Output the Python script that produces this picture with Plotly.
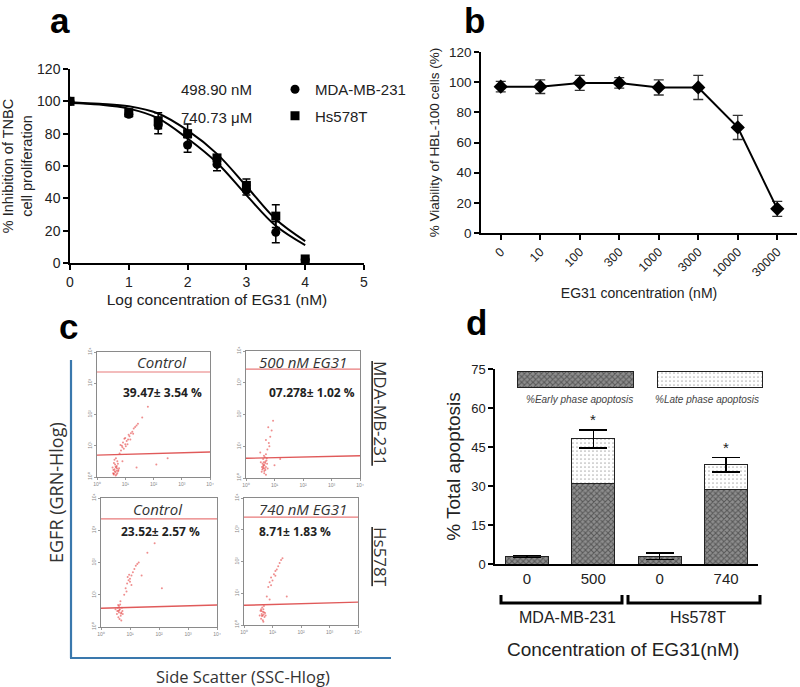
"""Four-panel EG31 figure: dose response, HBL-100 viability, EGFR flow plots, apoptosis bars."""

import plotly.graph_objects as go

W, H = 800, 687

# ---------------------------------------------------------------------------
# Data
# ---------------------------------------------------------------------------

# panel a: log concentration vs % inhibition
log_conc = [0, 1, 1.5, 2, 2.5, 3, 3.5, 4]
mda_inhib = [100, 92, 85, 73, 61, 45, 19, 2]
mda_err = [0, 1.5, 5, 4.5, 4, 3, 6.5, 0]
hs_inhib = [100, 93, 88, 80, 65, 48, 29, 2.5]
hs_err = [0, 1.5, 5, 6, 2, 4, 7, 0]
fit_x = [0, 0.5, 1, 1.5, 2, 2.5, 3, 3.5, 4]
mda_fit = [99, 98, 95.5, 89.5, 77, 62, 42, 23, 11]
hs_fit = [99.5, 98.5, 97, 92.5, 82, 67.5, 47.5, 27, 13.5]
ic50_labels = ["498.90 nM", "740.73 \u03bcM"]
cell_lines = ["MDA-MB-231", "Hs578T"]

# panel b: HBL-100 viability
hbl_conc = ["0", "10", "100", "300", "1000", "3000", "10000", "30000"]
hbl_viab = [97, 97, 99.5, 99.5, 96.5, 96.5, 70, 16]
hbl_err = [3.5, 4.5, 5, 3.5, 5, 8, 8, 5]

# panel c: flow cytometry events (log10 units, SSC vs EGFR)
flow_titles = ["Control", "500 nM EG31", "Control", "740 nM EG31"]
flow_pcts = ["39.47\u00b1 3.54 %", "07.278\u00b1 1.02 %", "23.52\u00b1 2.57 %", "8.71\u00b1 1.83 %"]
flow_upper_gate = [3.36, 3.43, 3.35, 3.4]
flow_lower_gate = [(0.7, 0.8), (0.62, 0.7), (0.58, 0.68), (0.62, 0.72)]

flow_tl_x = [0.6, 0.65, 0.7, 0.62, 0.72, 0.68, 0.58, 0.75, 0.66, 0.7, 0.64, 0.55, 0.78, 0.6,
             0.72, 0.67, 0.62, 0.74, 0.69, 0.57, 0.8, 0.85, 0.9, 0.95, 1.0, 0.92, 1.05, 1.1,
             1.0, 1.15, 1.2, 1.12, 1.25, 1.3, 1.35, 1.4, 1.45, 0.88, 1.08, 1.6, 1.8, 2.1,
             1.4, 2.5, 0.9, 0.63, 0.71, 0.66, 0.59, 0.76, 0.97, 1.18, 1.02, 1.28, 0.83]
flow_tl_y = [0.1, 0.15, 0.2, 0.25, 0.12, 0.3, 0.22, 0.18, 0.05, 0.35, 0.4, 0.3, 0.28, 0.45,
             0.5, 0.6, 0.55, 0.42, 0.08, 0.12, 0.75, 0.85, 0.95, 0.9, 1.05, 1.1, 1.15, 1.2,
             1.25, 1.3, 1.4, 1.35, 1.45, 1.55, 1.6, 1.65, 1.7, 1.0, 1.05, 1.9, 2.25, 0.4,
             0.3, 0.6, 0.5, 0.18, 0.27, 0.33, 0.08, 0.22, 1.22, 1.2, 0.98, 1.38, 1.02]
flow_tr_x = [0.55, 0.6, 0.65, 0.7, 0.62, 0.58, 0.68, 0.72, 0.6, 0.66, 0.64, 0.7, 0.56, 0.74,
             0.62, 0.68, 0.6, 0.66, 0.52, 0.76, 0.63, 0.7, 0.75, 0.8, 0.7, 0.85, 0.9, 0.78,
             0.95, 0.82, 1.0, 0.5, 1.2, 0.61, 0.67, 0.57, 0.73, 0.64]
flow_tr_y = [0.2, 0.3, 0.4, 0.35, 0.5, 0.45, 0.25, 0.55, 0.6, 0.65, 0.15, 0.1, 0.35, 0.45,
             0.42, 0.52, 0.38, 0.3, 0.5, 0.3, 0.7, 0.75, 0.9, 1.1, 1.2, 1.3, 1.5, 1.6, 1.8,
             1.0, 0.4, 0.8, 0.6, 0.33, 0.47, 0.27, 0.62, 0.22]
flow_bl_x = [0.55, 0.6, 0.65, 0.7, 0.62, 0.58, 0.68, 0.72, 0.6, 0.66, 0.64, 0.7, 0.56, 0.74,
             0.62, 0.5, 0.67, 0.75, 0.85, 0.9, 0.95, 1.0, 0.92, 1.05, 1.1, 1.0, 1.15, 1.2,
             1.25, 1.3, 0.88, 1.05, 1.4, 1.6, 1.85, 0.8, 2.1, 0.63, 0.69, 0.59, 0.97]
flow_bl_y = [0.4, 0.5, 0.55, 0.45, 0.65, 0.6, 0.35, 0.6, 0.3, 0.7, 0.25, 0.2, 0.5, 0.5,
             0.45, 0.55, 0.8, 0.4, 1.2, 1.35, 1.45, 1.5, 1.55, 1.6, 1.7, 1.4, 1.8, 1.9,
             1.95, 2.0, 1.1, 1.3, 1.6, 2.3, 2.6, 1.0, 1.2, 0.52, 0.42, 0.68, 1.62]
flow_br_x = [0.6, 0.65, 0.7, 0.62, 0.68, 0.72, 0.58, 0.66, 0.74, 0.64, 0.7, 0.6, 0.76, 0.55,
             0.68, 0.66, 0.85, 0.9, 0.95, 1.0, 1.05, 1.1, 1.15, 1.2, 1.25, 1.3, 0.95, 1.1,
             0.8, 1.35, 1.5, 0.9, 0.63, 0.69, 0.61]
flow_br_y = [0.2, 0.3, 0.4, 0.35, 0.5, 0.25, 0.45, 0.15, 0.38, 0.55, 0.6, 0.5, 0.3, 0.3,
             0.1, 0.42, 1.2, 1.35, 1.5, 1.4, 1.6, 1.7, 1.75, 1.85, 1.95, 2.05, 1.25, 1.55,
             0.9, 2.1, 0.9, 0.8, 0.28, 0.33, 0.44]
flow_x = [flow_tl_x, flow_tr_x, flow_bl_x, flow_br_x]
flow_y = [flow_tl_y, flow_tr_y, flow_bl_y, flow_br_y]
flow_ticks = ["10\u2070", "10\u00b9", "10\u00b2", "10\u00b3", "10\u2074"]

# panel d: apoptosis
apop_groups = [0, 1, 2, 3]
apop_ticks = ["0", "500", "0", "740"]
apop_early = [2.9, 30.8, 3.0, 28.6]
apop_late = [0, 17.3, 0, 9.5]
apop_err = [0.4, 3.5, 1.3, 2.8]
apop_star = [None, "*", None, "*"]
legend_labels = ["%Early phase apoptosis", "%Late phase apoptosis"]


def px(x):
    return x / W


def py(y):
    return 1 - y / H


def label(text, x, y, size, family=None, color="#222", **kw):
    """Paper-anchored text centred on a pixel position."""
    opts = dict(text=text, x=px(x), y=py(y), xref="paper", yref="paper", showarrow=False,
                xanchor="center", yanchor="middle",
                font=dict(family=family or FONT, size=size, color=color))
    opts.update(kw)
    return opts


FONT = "Liberation Sans, Arial, sans-serif"
FLOW_FONT = "Open Sans, Liberation Sans, sans-serif"
EARLY_PATTERN = dict(shape="x", fgcolor="#1e1e1e", bgcolor="#8e8e8e", size=4, solidity=0.45)
LATE_PATTERN = dict(shape=".", fgcolor="#6a6a6a", bgcolor="#ffffff", size=4, solidity=0.15)

fig = go.Figure()

# ---------------------------------------------------------------------------
# Panel a
# ---------------------------------------------------------------------------
fig.add_trace(go.Scatter(x=fit_x, y=mda_fit, mode="lines", line=dict(color="black", width=2, shape="spline"),
                         showlegend=False, xaxis="x", yaxis="y"))
fig.add_trace(go.Scatter(x=fit_x, y=hs_fit, mode="lines", line=dict(color="black", width=2, shape="spline"),
                         showlegend=False, xaxis="x", yaxis="y"))
fig.add_trace(go.Scatter(
    x=log_conc, y=mda_inhib, mode="markers", name=cell_lines[0], legendgroup="mda",
    marker=dict(symbol="circle", size=9, color="black"),
    error_y=dict(type="data", array=mda_err, color="black", thickness=1.5, width=4),
    xaxis="x", yaxis="y",
))
fig.add_trace(go.Scatter(
    x=log_conc, y=hs_inhib, mode="markers", name=cell_lines[1], legendgroup="hs",
    marker=dict(symbol="square", size=9, color="black"),
    error_y=dict(type="data", array=hs_err, color="black", thickness=1.5, width=4),
    xaxis="x", yaxis="y",
))

# ---------------------------------------------------------------------------
# Panel b
# ---------------------------------------------------------------------------
fig.add_trace(go.Scatter(
    x=hbl_conc, y=hbl_viab, mode="lines+markers", showlegend=False,
    line=dict(color="black", width=2),
    marker=dict(symbol="diamond", size=11, color="black"),
    error_y=dict(type="data", array=hbl_err, color="#333333", thickness=1.3, width=5),
    xaxis="x2", yaxis="y2",
))

# ---------------------------------------------------------------------------
# Panel d
# ---------------------------------------------------------------------------
fig.add_trace(go.Bar(
    x=apop_groups, y=apop_early, width=0.65, showlegend=False,
    marker=dict(color="#8e8e8e", line=dict(color="#222", width=1), pattern=EARLY_PATTERN),
    xaxis="x3", yaxis="y3",
))
fig.add_trace(go.Bar(
    x=apop_groups, y=apop_late, width=0.65, showlegend=False,
    marker=dict(color="#ffffff", line=dict(color="#222", width=1), pattern=LATE_PATTERN),
    error_y=dict(type="data", array=apop_err, color="black", thickness=1.5, width=14),
    xaxis="x3", yaxis="y3",
))
# legend swatches for panel d
fig.add_trace(go.Bar(
    y=[0.5], x=[0.473], base=[0], orientation="h", width=1, showlegend=False,
    marker=dict(color="#8e8e8e", line=dict(color="#222", width=1), pattern=EARLY_PATTERN),
    xaxis="x8", yaxis="y8",
))
fig.add_trace(go.Bar(
    y=[0.5], x=[0.429], base=[0.571], orientation="h", width=1, showlegend=False,
    marker=dict(color="#ffffff", line=dict(color="#222", width=1), pattern=LATE_PATTERN),
    xaxis="x8", yaxis="y8",
))

# ---------------------------------------------------------------------------
# Panel c: flow plots
# ---------------------------------------------------------------------------
flow_domains = [
    ([97, 210], [352, 477]),
    ([246, 360], [351, 478]),
    ([101, 217], [498, 627]),
    ([244, 358], [498, 625]),
]
for i in range(4):
    ax = str(4 + i)
    fig.add_trace(go.Scatter(
        x=flow_x[i], y=flow_y[i], mode="markers", showlegend=False,
        marker=dict(size=2, color="rgba(225,50,50,0.55)"),
        xaxis="x" + ax, yaxis="y" + ax,
    ))
    fig.add_trace(go.Scatter(
        x=[0, 4], y=[flow_upper_gate[i]] * 2, mode="lines", showlegend=False,
        line=dict(color="#e87a7a", width=1.2), xaxis="x" + ax, yaxis="y" + ax,
    ))
    fig.add_trace(go.Scatter(
        x=[0, 4], y=list(flow_lower_gate[i]), mode="lines", showlegend=False,
        line=dict(color="#e05a5a", width=1.4), xaxis="x" + ax, yaxis="y" + ax,
    ))

# ---------------------------------------------------------------------------
# Layout
# ---------------------------------------------------------------------------
axis_common = dict(showline=True, linecolor="black", linewidth=1.5, ticks="outside",
                   ticklen=5, tickwidth=1.5, tickcolor="black", showgrid=False, zeroline=False,
                   automargin=False, tickfont=dict(family=FONT, size=14, color="#222"))

layout = dict(
    width=W, height=H, margin=dict(l=0, r=0, t=0, b=0, autoexpand=False),
    paper_bgcolor="white", plot_bgcolor="white", barmode="stack",
    font=dict(family=FONT, color="black"),
    showlegend=True,
    legend=dict(x=px(275), y=py(73), xanchor="left", yanchor="top", bgcolor="rgba(0,0,0,0)",
                font=dict(family=FONT, size=15, color="#222"), traceorder="grouped",
                tracegroupgap=4, itemwidth=30),
    xaxis=dict(axis_common, domain=[px(70), px(364)], range=[0, 5], dtick=1, anchor="y",
               title=dict(text="Log concentration of EG31 (nM)", font=dict(size=15.5, color="#222"), standoff=6)),
    yaxis=dict(axis_common, domain=[py(263), py(69)], range=[0, 120], dtick=20, anchor="x",
               title=dict(text="% Inhibition of TNBC<br>cell proliferation", font=dict(size=14.5, color="#222"), standoff=4)),
    xaxis2=dict(axis_common, domain=[px(481), px(797)], range=[-0.5, 7.5], anchor="y2", tickangle=-45,
                tickfont=dict(family=FONT, size=12.5, color="#222"),
                title=dict(text="EG31 concentration (nM)", font=dict(size=14, color="#222"), standoff=10)),
    yaxis2=dict(axis_common, domain=[py(233), py(52)], range=[0, 120], dtick=20, anchor="x2",
                tickfont=dict(family=FONT, size=13.5, color="#222"),
                title=dict(text="% Viability of HBL-100 cells (%)", font=dict(size=13.5, color="#222"), standoff=6)),
    xaxis3=dict(axis_common, domain=[px(495), px(758)], range=[-0.48, 3.48], anchor="y3", ticks="",
                tickvals=apop_groups, ticktext=apop_ticks, tickfont=dict(family=FONT, size=15, color="#222")),
    yaxis3=dict(axis_common, domain=[py(564), py(369)], range=[0, 75], dtick=15, anchor="x3",
                tickfont=dict(family=FONT, size=13, color="#222"),
                title=dict(text="% Total apoptosis", font=dict(size=19, color="#222"), standoff=6)),
    xaxis8=dict(domain=[px(516), px(764)], range=[-0.006, 1.006], visible=False, anchor="y8", fixedrange=True),
    yaxis8=dict(domain=[py(388), py(371)], range=[-0.06, 1.06], visible=False, anchor="x8", fixedrange=True),
)

for i, (xd, yd) in enumerate(flow_domains):
    n = str(4 + i)
    layout["xaxis" + n] = dict(
        domain=[px(xd[0]), px(xd[1])], range=[0, 4], anchor="y" + n, showgrid=False, zeroline=False,
        showline=True, mirror=True, linecolor="#8a8a8a", linewidth=1, ticks="outside", ticklen=2,
        tickcolor="#999", tickvals=[0, 1, 2, 3, 4], ticktext=flow_ticks, automargin=False,
        tickfont=dict(size=5, color="#888"),
    )
    layout["yaxis" + n] = dict(
        domain=[py(yd[1]), py(yd[0])], range=[0, 4], anchor="x" + n, showgrid=False, zeroline=False,
        showline=True, mirror=True, linecolor="#8a8a8a", linewidth=1, ticks="outside", ticklen=2,
        tickcolor="#999", tickvals=[0, 1, 2, 3, 4], ticktext=flow_ticks, tickangle=-90,
        automargin=False, tickfont=dict(size=5, color="#888"),
    )

fig.update_layout(**layout)

# ---------------------------------------------------------------------------
# Annotations
# ---------------------------------------------------------------------------
ann = []
for letter, (x, y) in zip("abcd", [(60, 21), (474, 21), (68, 326), (477, 322)]):
    ann.append(label(letter, x, y, 35, color="black"))
    ann[-1]["font"]["weight"] = "bold"

for text, y in zip(ic50_labels, [90, 117]):
    ann.append(label(text, 254, y, 15, xanchor="right"))

flow_title_pos = [(162, 362), (303, 362), (158, 509), (303, 509)]
flow_pct_pos = [(162, 392), (312, 392), (160, 531), (295, 531)]
for i in range(4):
    ann.append(label("<i>" + flow_titles[i] + "</i>", *flow_title_pos[i], 15, FLOW_FONT, "#333"))
    ann.append(label("<b>" + flow_pcts[i] + "</b>", *flow_pct_pos[i], 12, FLOW_FONT))

for text, y in zip(cell_lines, [413, 557]):
    ann.append(label("<u>" + text + "</u>", 381, y, 17, FLOW_FONT, "#333", textangle=90))

ann.append(label("EGFR (GRN-Hlog)", 56, 493, 18, FLOW_FONT, "#333", textangle=-90))
ann.append(label("Side Scatter (SSC-Hlog)", 243, 676, 16.5, FLOW_FONT, "#333"))

# panel d extras
for g, star, early, late, err in zip(apop_groups, apop_star, apop_early, apop_late, apop_err):
    if star:
        ann.append(dict(text=star, x=g, y=early + late + err + 4, xref="x3", yref="y3", showarrow=False,
                        xanchor="center", yanchor="middle", font=dict(family=FONT, size=15, color="#222")))
for text, x in zip(legend_labels, [579, 707]):
    ann.append(label("<i>" + text + "</i>", x, 399, 10, color="#444"))
for text, x in zip(cell_lines, [567, 698]):
    ann.append(label(text, x, 617, 16))
ann.append(label("Concentration of EG31(nM)", 623, 649, 19))

fig.update_layout(annotations=ann)

# ---------------------------------------------------------------------------
# Shapes: panel c axes frame, panel d brackets
# ---------------------------------------------------------------------------
shapes = [
    dict(type="line", xref="paper", yref="paper", x0=px(71), x1=px(71), y0=py(360), y1=py(658),
         line=dict(color="#3a78ad", width=2.2)),
    dict(type="line", xref="paper", yref="paper", x0=px(70), x1=px(391), y0=py(658), y1=py(658),
         line=dict(color="#3a78ad", width=2.2)),
]
for x0, x1 in [(501, 622), (628, 760)]:
    shapes.append(dict(type="path", xref="paper", yref="paper",
                       path=f"M {px(x0)} {py(595)} L {px(x0)} {py(603)} L {px(x1)} {py(603)} L {px(x1)} {py(595)}",
                       line=dict(color="black", width=3)))
fig.update_layout(shapes=shapes)

fig.write_html("out.html", config={"displayModeBar": False},
               post_script="document.body.style.margin = '0';")
